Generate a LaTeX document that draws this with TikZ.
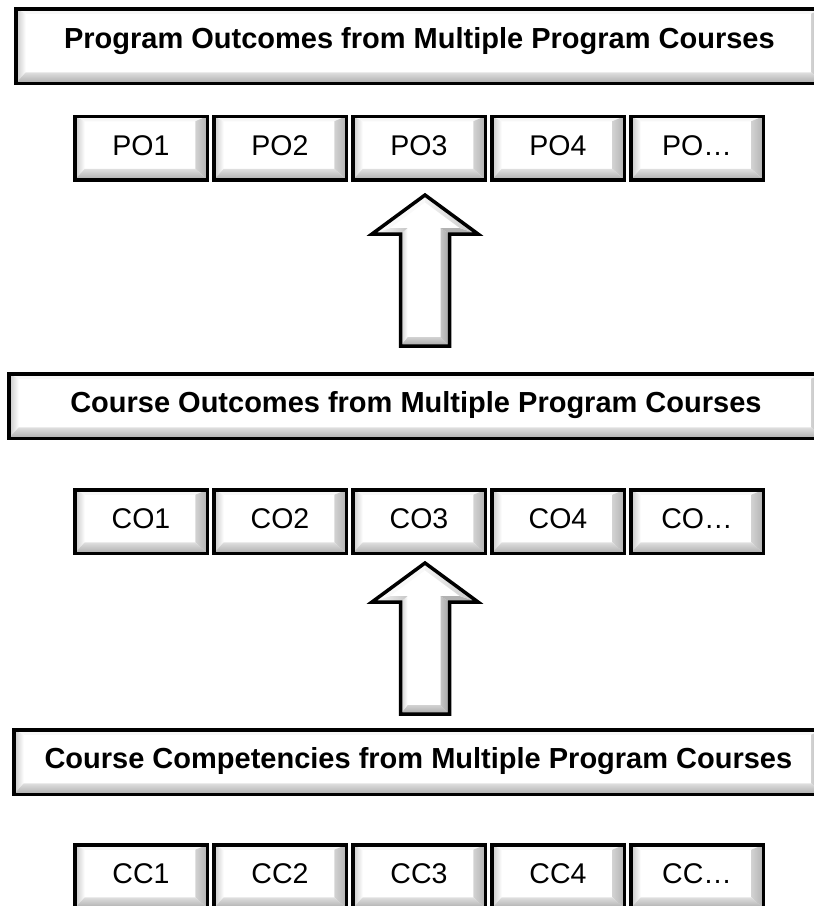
\documentclass[tikz,border=0pt]{standalone}
\usepackage{fontspec}
\setmainfont{Liberation Sans}
\usetikzlibrary{positioning}

\tikzset{
  bevel/.style={path picture={
    \coordinate (sw) at (path picture bounding box.south west);
    \coordinate (ne) at (path picture bounding box.north east);
    \coordinate (nw) at (sw |- ne);
    \coordinate (se) at (ne |- sw);
    % top
    \fill[gray!6] (nw) -- (ne) -- ([shift={(-12pt,-5pt)}]ne) -- ([shift={(10pt,-5pt)}]nw) -- cycle;
    % left
    \shade[left color=gray!45, right color=white] (nw) -- ([shift={(10pt,-5pt)}]nw)
      -- ([shift={(10pt,11pt)}]sw) -- (sw) -- cycle;
    % right
    \shade[left color=gray!35, right color=gray!60] (ne) -- (se)
      -- ([shift={(-12pt,11pt)}]se) -- ([shift={(-12pt,-5pt)}]ne) -- cycle;
    % bottom
    \shade[top color=gray!25, bottom color=gray!65] (sw) -- (se)
      -- ([shift={(-12pt,11pt)}]se) -- ([shift={(10pt,11pt)}]sw) -- cycle;
  }},
  btn/.style={bevel, draw, line width=3.5pt, outer sep=0pt, inner sep=0pt,
    minimum width=132.5pt, minimum height=63.5pt, text height=20pt, text depth=6pt,
    font=\fontsize{28.5}{32}\selectfont},
  headbox/.style={bevel, draw, line width=3.5pt, outer sep=0pt, inner sep=0pt,
    minimum height=64.5pt, text height=21pt, text depth=9pt,
    font=\fontsize{29}{34}\selectfont\bfseries},
}

\begin{document}
\begin{tikzpicture}[x=1pt,y=1pt]
  \useasboundingbox (0,0) rectangle (814,-906);

  % headers
  \node[headbox, minimum width=807.25pt, minimum height=74.5pt, text depth=17pt]
    (pohead) at (419.4,-46) {Program Outcomes from Multiple Program Courses};
  \node[headbox, minimum width=814.25pt] (cohead) at (415.9,-406)
    {Course Outcomes from Multiple Program Courses};
  \node[headbox, minimum width=809.25pt] (cchead) at (418.4,-762)
    {Course Competencies from Multiple Program Courses};

  % program outcomes
  \node[btn] (po1) at (141,-148) {PO1};
  \node[btn, right=6.5pt of po1] (po2) {PO2};
  \node[btn, right=6.5pt of po2] (po3) {PO3};
  \node[btn, right=6.5pt of po3] (po4) {PO4};
  \node[btn, right=6.5pt of po4] (po5) {PO…};

  % course outcomes
  \node[btn] (co1) at (141,-521.5) {CO1};
  \node[btn, right=6.5pt of co1] (co2) {CO2};
  \node[btn, right=6.5pt of co2] (co3) {CO3};
  \node[btn, right=6.5pt of co3] (co4) {CO4};
  \node[btn, right=6.5pt of co4] (co5) {CO…};

  % course competencies
  \node[btn] (cc1) at (141,-876.5) {CC1};
  \node[btn, right=6.5pt of cc1] (cc2) {CC2};
  \node[btn, right=6.5pt of cc2] (cc3) {CC3};
  \node[btn, right=6.5pt of cc3] (cc4) {CC4};
  \node[btn, right=6.5pt of cc4] (cc5) {CC…};

  % block arrows
  \foreach \ay in {-346,-714} {
    \begin{scope}[shift={(425,\ay)}]
      \shade[top color=gray!35, bottom color=gray!70]
        (-24.5,0) -- (24.5,0) -- (15.5,9) -- (-17.5,9) -- cycle;
      \shade[left color=gray!45, right color=gray!70]
        (24.5,0) -- (24.5,112) -- (15.5,118) -- (15.5,9) -- cycle;
      \shade[left color=gray!40, right color=white]
        (-24.5,0) -- (-17.5,9) -- (-17.5,118) -- (-24.5,112) -- cycle;
      \fill[gray!60] (24.5,112) -- (53,112) -- (34.7,118) -- (15.5,118) -- cycle;
      \shade[left color=white, right color=gray!45]
        (-24.5,112) -- (-17.5,118) -- (-34.7,118) -- (-53,112) -- cycle;
      \shade[left color=gray!10, right color=gray!45]
        (53,112) -- (0,151) -- (0,143.6) -- (34.7,118) -- cycle;
      \fill[gray!5] (-53,112) -- (0,151) -- (0,143.6) -- (-34.7,118) -- cycle;
      \draw[line width=3.5pt] (-24.5,0) -- (24.5,0) -- (24.5,112) -- (53,112)
        -- (0,151) -- (-53,112) -- (-24.5,112) -- cycle;
    \end{scope}
  }
\end{tikzpicture}
\end{document}
